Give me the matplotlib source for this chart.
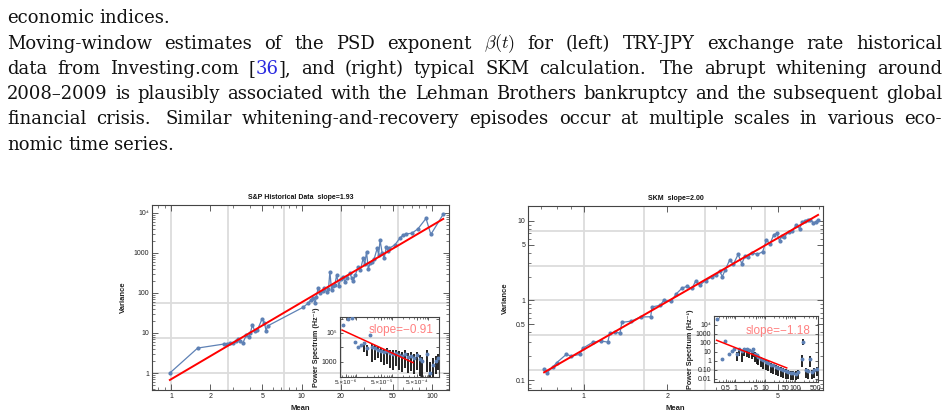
import matplotlib
matplotlib.use("Agg")
import matplotlib.pyplot as plt
from matplotlib.ticker import FixedLocator, FixedFormatter, LogLocator, NullFormatter

plt.rcParams["font.family"] = ["Liberation Sans", "DejaVu Sans"]
plt.rcParams["mathtext.fontset"] = "cm"

W, H = 948, 418

# caption lines: (text, justified)
caption_lines = [
    ("economic indices.", False),
    ("Moving-window estimates of the PSD exponent $\\beta(t)$ for (left) TRY-JPY exchange rate historical", True),
    ("data from Investing.com [36], and (right) typical SKM calculation.  The abrupt whitening around", True),
    ("2008\u20132009 is plausibly associated with the Lehman Brothers bankruptcy and the subsequent global", True),
    ("financial crisis.  Similar whitening-and-recovery episodes occur at multiple scales in various eco-", True),
    ("nomic time series.", False),
]

# S&P historical data: mean vs variance
sp_mean = [0.98, 1.6, 2.55, 2.7, 2.85, 3.0, 3.15, 3.28, 3.4, 3.55, 3.78, 3.95, 4.05, 4.2,
           4.4, 4.6, 5.0, 5.2, 5.35, 5.5, 10.3, 11.2, 11.8, 12.3, 12.7, 13.0, 13.4, 13.9,
           14.5, 15.0, 15.6, 16.1, 16.5, 17.0, 17.5, 18.0, 18.6, 19.3, 20.0, 20.8, 21.5,
           22.3, 23.5, 24.2, 24.9, 25.8, 27.2, 28.3, 29.7, 30.5, 31.5, 32.5, 33.5, 34.5,
           36.0, 38.0, 39.0, 40.0, 41.5, 43.0, 44.8, 46.0, 47.0, 52.0, 57.0, 60.0, 63.0,
           70.0, 78.0, 90.0, 98.0, 122.0]
sp_var = [1.0, 4.2, 5.3, 5.4, 5.6, 5.5, 6.3, 6.9, 6.2, 5.6, 8.9, 8.0, 9.8, 15.8,
          11.0, 12.0, 23.0, 18.0, 11.4, 15.0, 44, 55, 67, 75, 55, 80, 132, 100,
          115, 130, 105, 125, 340, 118, 150, 160, 280, 150, 230, 255, 190,
          240, 310, 240, 200, 280, 450, 380, 740, 520, 1070, 400, 550, 600,
          700, 1300, 900, 2100, 1000, 750, 1450, 1100, 1300, 1600, 2400, 2800, 3000,
          3100, 4000, 7300, 2900, 9300]
sp_fit_mean = [0.98, 122.0]
sp_fit_var = [0.67, 7100.0]

# S&P inset power spectrum
sp_psd_f = [4.24e-6, 5.85e-6, 7.56e-6, 9.16e-6, 1.11e-5, 1.35e-5, 1.63e-5, 1.98e-5, 2.40e-5,
            2.73e-5, 3.30e-5, 4.00e-5, 4.86e-5, 5.88e-5, 7.13e-5, 8.64e-5, 1.05e-4, 1.27e-4,
            1.54e-4, 1.87e-4, 2.26e-4, 2.74e-4, 3.32e-4, 4.03e-4, 4.89e-4, 5.92e-4, 6.73e-4,
            9.27e-4, 1.12e-3, 1.36e-3, 1.65e-3, 1.88e-3]
sp_psd_p = [3.6e5, 9.2e5, 1.08e6, 2.4e4, 1.08e4, 1.49e4, 2.04e4, 9.2e3, 7.3e4, 1.08e4, 9.2e3,
            6.7e3, 5.7e3, 4.9e3, 5.7e3, 4.2e3, 3.6e3, 4.2e3, 3.0e3, 2.6e3, 3.6e3, 2.2e3, 2.6e3,
            1.9e3, 3.0e3, 1.6e3, 1.17e3, 3.6e3, 174, 620, 1.17e3, 1.9e3]
sp_psd_hi = [3.6e5, 9.2e5, 1.08e6, 2.4e4, 1.08e4, 1.49e4, 2.4e4, 1.49e4, 7.3e4, 1.74e4, 1.49e4,
             1.08e4, 9.2e3, 7.9e3, 9.2e3, 6.7e3, 6.7e3, 6.7e3, 5.7e3, 4.9e3, 6.7e3, 4.2e3, 4.9e3,
             3.6e3, 4.9e3, 3.0e3, 2.2e3, 6.7e3, 1.0e3, 1.9e3, 2.6e3, 3.6e3]
sp_psd_lo = [3.6e5, 9.2e5, 1.08e6, 2.4e4, 1.08e4, 1.49e4, 4.9e3, 2.6e3, 7.3e4, 1.0e3, 1.37e3,
             1.9e3, 1.0e3, 620, 730, 390, 280, 530, 280, 204, 390, 174, 240,
             149, 280, 108, 92, 204, 92, 92, 127, 280]
sp_psd_fit_f = [4.0e-6, 3.8e-4]
sp_psd_fit_p = [1.6e5, 850]
sp_psd_ticks = [5e-6, 1e-5, 5e-5, 1e-4, 5e-4, 1e-3]
sp_psd_ticklabels = ["5.\u00d710\u207b\u2076", "", "5.\u00d710\u207b\u2075",
                     "", "5.\u00d710\u207b\u2074", ""]

# SKM calculation: mean vs variance
skm_mean = [0.72, 0.735, 0.776, 0.80, 0.866, 0.90, 0.967, 0.99, 1.08, 1.15, 1.22, 1.24, 1.30,
            1.35, 1.37, 1.48, 1.6, 1.74, 1.76, 1.88, 1.94, 2.06, 2.15, 2.26, 2.35, 2.45, 2.53,
            2.61, 2.74, 2.88, 3.0, 3.08, 3.15, 3.23, 3.35, 3.45, 3.59, 3.7, 3.8, 3.9, 4.02,
            4.21, 4.4, 4.54, 4.67, 4.82, 4.95, 5.06, 5.15, 5.26, 5.45, 5.6, 5.82, 5.97, 6.1,
            6.27, 6.4, 6.5, 6.7, 6.85, 6.95]
skm_var = [0.137, 0.122, 0.148, 0.166, 0.211, 0.20, 0.21, 0.25, 0.30, 0.31, 0.30, 0.39, 0.40,
           0.39, 0.53, 0.55, 0.62, 0.625, 0.83, 0.87, 1.0, 0.98, 1.21, 1.44, 1.5, 1.42, 1.78,
           1.55, 1.78, 1.96, 2.1, 2.32, 2.0, 2.45, 3.25, 2.85, 3.8, 2.9, 3.6, 3.5, 4.0,
           3.8, 4.1, 5.8, 5.1, 6.7, 7.0, 5.6, 6.5, 6.3, 7.2, 7.5, 8.9, 8.0, 9.6,
           10.1, 10.4, 10.4, 9.5, 9.8, 10.2]
skm_fit_mean = [0.72, 6.96]
skm_fit_var = [0.125, 11.9]

# SKM inset power spectrum
skm_psd_f = [0.245, 0.36, 0.464, 0.63, 0.776, 0.95, 1.14, 1.36, 1.67, 2.04, 2.45, 2.93, 3.6,
             4.08, 4.64, 5.3, 6.0, 7.36, 8.8, 10.5, 12.9, 15.8, 18.9, 22.7, 27.9, 34.1, 40.8,
             49, 60, 73, 88, 105, 128, 167, 190, 228, 277, 316, 360, 440, 530]
skm_psd_p = [5.0e4, 1.8, 155, 6.5, 12, 20, 6.5, 23, 12, 23, 20, 15.5, 12, 20, 6.5, 4.3, 2.8,
             1.8, 1.2, 0.78, 0.65, 0.39, 0.33, 0.21, 0.17, 0.12, 0.091, 0.07, 0.06, 0.046,
             0.05, 0.039, 0.06, 1.8, 130, 0.09, 0.07, 1.8, 0.06, 0.09, 0.14]
skm_psd_hi = [5.0e4, 1.8, 155, 6.5, 12, 20, 9, 30, 18, 30, 28, 22, 18, 26, 10, 6.5, 4.5, 3, 2,
              1.3, 1.1, 0.6, 0.5, 0.35, 0.28, 0.2, 0.15, 0.12, 0.1, 0.08, 0.08, 0.07, 0.09,
              4.6, 300, 0.15, 0.12, 4.0, 0.1, 0.15, 0.22]
skm_psd_lo = [5.0e4, 1.8, 155, 6.5, 12, 20, 1.0, 3.5, 0.77, 3.5, 3.0, 2.0, 1.5, 2.5, 0.8, 0.5,
              0.35, 0.2, 0.13, 0.09, 0.07, 0.05, 0.04, 0.025, 0.02, 0.015, 0.012, 0.01, 0.009,
              0.008, 0.008, 0.007, 0.009, 0.2, 55, 0.012, 0.01, 0.2, 0.009, 0.012, 0.02]
skm_psd_fit_f = [0.245, 53]
skm_psd_fit_p = [200, 0.17]

BLUE = "#5e81b5"
GRID = "#dcdcdc"
FRAME = "#444444"
CAPTION_FONT = "DejaVu Serif"
CAPTION_SIZE = 13.0

fig = plt.figure(figsize=(W / 100, H / 100), dpi=100)
renderer = fig.canvas.get_renderer()


def axes_px(left, top, right, bottom):
    return fig.add_axes([left / W, 1 - bottom / H, (right - left) / W, (bottom - top) / H])


# --- caption, justified word by word ---
def split_word(word):
    if word.startswith("[36]"):
        return [("[", "#111111"), ("36", "#2a2ae0"), (word[3:], "#111111")]
    return [(word, "#111111")]


fs_px = CAPTION_SIZE * 100 / 72
for row, (line, justify) in enumerate(caption_lines):
    y = 1 - (23.3 + row * 25.3) / H
    words = line.replace(".  ", ". ").split(" ")
    placed = []
    for w in words:
        parts = []
        for s, c in split_word(w):
            t = fig.text(0, y, s, color=c, fontsize=CAPTION_SIZE, family=CAPTION_FONT,
                         va="baseline", ha="left", math_fontfamily="cm")
            parts.append((t, t.get_window_extent(renderer).width))
        placed.append(parts)
    widths = [sum(pw for _, pw in p) for p in placed]
    weights = [1.45 if w.endswith(".") else 1.0 for w in words[:-1]]
    left, right = 7.0, 942.0
    if justify:
        unit = (right - left - sum(widths)) / sum(weights)
    else:
        unit = 0.3 * fs_px
    x = left
    for i, parts in enumerate(placed):
        xx = x
        for t, pw in parts:
            t.set_x(xx / W)
            xx += pw
        if i < len(weights):
            x += widths[i] + unit * weights[i]


def style_frame(ax, size=5):
    for sp in ax.spines.values():
        sp.set_color(FRAME)
        sp.set_linewidth(0.8)
    ax.tick_params(which="both", direction="in", top=True, right=True, colors=FRAME,
                   labelcolor="#222222", labelsize=size, pad=2)
    ax.tick_params(which="major", length=4, width=0.6)
    ax.tick_params(which="minor", length=2, width=0.5)


def draw_main(ax, xs, ys, fx, fy, xlim, ylim, vgrid, hgrid, xt, xtl, yt, ytl, title):
    ax.set_xscale("log")
    ax.set_yscale("log")
    for g in vgrid:
        ax.axvline(g, color=GRID, lw=1.3, zorder=0)
    for g in hgrid:
        ax.axhline(g, color=GRID, lw=1.3, zorder=0)
    ax.plot(xs, ys, color=BLUE, lw=0.9, marker="o", ms=2.0, zorder=2)
    ax.plot(fx, fy, color="red", lw=1.4, zorder=3)
    ax.set_xlim(*xlim)
    ax.set_ylim(*ylim)
    ax.xaxis.set_major_locator(FixedLocator(xt))
    ax.xaxis.set_major_formatter(FixedFormatter(xtl))
    ax.yaxis.set_major_locator(FixedLocator(yt))
    ax.yaxis.set_major_formatter(FixedFormatter(ytl))
    ax.xaxis.set_minor_locator(LogLocator(base=10, subs=range(1, 10), numticks=50))
    ax.yaxis.set_minor_locator(LogLocator(base=10, subs=range(1, 10), numticks=50))
    ax.xaxis.set_minor_formatter(NullFormatter())
    ax.yaxis.set_minor_formatter(NullFormatter())
    style_frame(ax)
    ax.set_xlabel("Mean", fontsize=5.5, fontweight="bold", color="#222222")
    ax.set_ylabel("Variance", fontsize=5.5, fontweight="bold", color="#222222")
    ax.set_title(title, fontsize=5, fontweight="bold", pad=4, color="#111111")


def draw_inset(ax, f, p, lo, hi, ff, fp, xlim, ylim, slope_text):
    ax.set_facecolor("none")
    ax.set_xscale("log")
    ax.set_yscale("log")
    ax.vlines(f, lo, hi, color="#111111", lw=1.3, zorder=2)
    ax.plot(f, p, ls="none", marker="o", ms=1.8, color=BLUE, zorder=3)
    ax.plot(ff, fp, color="red", lw=1.1, zorder=4)
    ax.set_xlim(*xlim)
    ax.set_ylim(*ylim)
    style_frame(ax, size=5)
    ax.tick_params(which="major", length=2.5)
    ax.tick_params(which="minor", length=1.3)
    ax.set_ylabel("Power Spectrum (Hz\u207b\u00b9)", fontsize=5.2, fontweight="bold",
                  color="#222222", labelpad=1)
    ax.text(0.62, 0.78, slope_text, transform=ax.transAxes, ha="center", va="center",
            fontsize=8.5, color="#ff8080")


# left main panel
ax1 = axes_px(152, 205, 449, 390)
draw_main(ax1, sp_mean, sp_var, sp_fit_mean, sp_fit_var, (0.715, 135), (0.376, 15800),
          [1, 2.718, 7.389, 20.09, 54.6], [1, 7.389, 54.6],
          [1, 2, 5, 10, 20, 50, 100], ["1", "2", "5", "10", "20", "50", "100"],
          [1, 10, 100, 1000, 10000], ["1", "10", "100", "1000", "10\u2074"],
          "S&P Historical Data  slope=1.93")
ax1.yaxis.set_label_coords(-0.085, 0.5)

# right main panel
ax2 = axes_px(528, 206, 823, 390)
draw_main(ax2, skm_mean, skm_var, skm_fit_mean, skm_fit_var, (0.63, 7.25), (0.075, 15.4),
          [1, 1.6487, 2.718, 4.4817], [0.1353, 0.3679, 1, 2.718, 7.389],
          [1, 2, 5], ["1", "2", "5"],
          [0.1, 0.5, 1, 5, 10], ["0.1", "0.5", "1", "5", "10"],
          "SKM  slope=2.00")
ax2.yaxis.set_label_coords(-0.065, 0.5)

# left inset
ins1 = axes_px(340, 317, 439, 377)
draw_inset(ins1, sp_psd_f, sp_psd_p, sp_psd_lo, sp_psd_hi, sp_psd_fit_f, sp_psd_fit_p,
           (3.5e-6, 2.0e-3), (85, 1.3e6), "slope=\u22120.91")
ins1.xaxis.set_major_locator(FixedLocator(sp_psd_ticks))
ins1.xaxis.set_major_formatter(FixedFormatter(sp_psd_ticklabels))
ins1.xaxis.set_minor_formatter(NullFormatter())
ins1.yaxis.set_major_locator(FixedLocator([1e3, 1e4, 1e5, 1e6]))
ins1.yaxis.set_major_formatter(FixedFormatter(["1000", "", "10\u2075", ""]))
ins1.yaxis.set_minor_formatter(NullFormatter())
ins1.tick_params(axis="x", labelsize=4.6)

# right inset
ins2 = axes_px(714, 316, 818, 382)
draw_inset(ins2, skm_psd_f, skm_psd_p, skm_psd_lo, skm_psd_hi, skm_psd_fit_f, skm_psd_fit_p,
           (0.2, 585), (0.0046, 1e5), "slope=\u22121.18")
ins2.xaxis.set_major_locator(FixedLocator([0.5, 1, 5, 10, 50, 100, 500]))
ins2.xaxis.set_major_formatter(FixedFormatter(["0.5", "1", "5", "10", "50", "100", "500"]))
ins2.xaxis.set_minor_formatter(NullFormatter())
ins2.yaxis.set_major_locator(FixedLocator([0.01, 0.1, 1, 10, 100, 1000, 1e4]))
ins2.yaxis.set_major_formatter(FixedFormatter(["0.01", "0.10", "1", "10", "100", "1000", "10\u2074"]))
ins2.yaxis.set_minor_formatter(NullFormatter())

fig.savefig("out.png", dpi=100)
